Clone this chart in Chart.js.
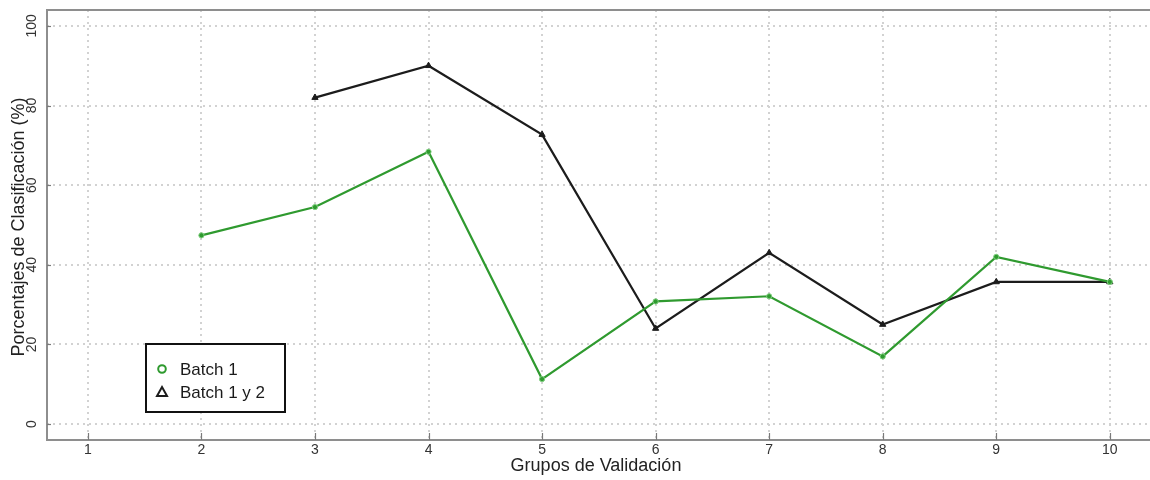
<!DOCTYPE html>
<html>
<head>
<meta charset="utf-8">
<script src="https://cdn.jsdelivr.net/npm/chart.js@4.4.1/dist/chart.umd.min.js"></script>
<style>
  html, body { margin: 0; padding: 0; background: #ffffff; }
  #wrap { width: 1150px; height: 480px; }
</style>
</head>
<body>
<div id="wrap"><canvas id="chart" width="1150" height="480"></canvas></div>
<script>
// Validation groups on the x axis
const grupos = [1, 2, 3, 4, 5, 6, 7, 8, 9, 10];
// Classification percentage per group (null = no result for that group)
const batch1 = [null, 47.4, 54.5, 68.4, 11.3, 30.8, 32.1, 17.0, 42.0, 35.7];
const batch12 = [null, null, 82.0, 90.0, 72.7, 24.0, 43.0, 25.0, 35.7, 35.7];
// Axis tick labels
const xTicks = [1, 2, 3, 4, 5, 6, 7, 8, 9, 10];
const yTicks = [0, 20, 40, 60, 80, 100];
const seriesNames = ['Batch 1', 'Batch 1 y 2'];
const xTitle = 'Grupos de Validación';
const yTitle = 'Porcentajes de Clasificación (%)';

const GREEN = '#2f9a2f';
const BLACK = '#1c1c1c';
const FONT = '"Liberation Sans", Arial, sans-serif';

function toPoints(values) {
  return grupos.map((g, i) => ({ x: g, y: values[i] })).filter(p => p.y !== null);
}

// Frame, dotted grid, inward ticks, tick labels and axis titles
const framePlugin = {
  id: 'frame',
  beforeDraw(chart) {
    const ctx = chart.ctx;
    ctx.save();
    ctx.fillStyle = '#ffffff';
    ctx.fillRect(0, 0, chart.width, chart.height);
    ctx.restore();
  },
  beforeDatasetsDraw(chart) {
    const { ctx, chartArea: a, scales: { x, y } } = chart;
    ctx.save();
    // dotted grid
    ctx.strokeStyle = '#d2d2d2';
    ctx.lineWidth = 2;
    ctx.setLineDash([2, 4]);
    yTicks.forEach(v => {
      const py = Math.round(y.getPixelForValue(v));
      ctx.beginPath(); ctx.moveTo(a.left, py); ctx.lineTo(chart.width, py); ctx.stroke();
    });
    xTicks.forEach(v => {
      const px = Math.round(x.getPixelForValue(v));
      ctx.beginPath(); ctx.moveTo(px, a.top); ctx.lineTo(px, a.bottom); ctx.stroke();
    });
    ctx.setLineDash([]);
    // frame
    ctx.strokeStyle = '#8e8e8e';
    ctx.lineWidth = 2;
    ctx.beginPath();
    ctx.moveTo(chart.width, a.top); ctx.lineTo(a.left, a.top);
    ctx.lineTo(a.left, a.bottom); ctx.lineTo(chart.width, a.bottom);
    ctx.stroke();
    // ticks
    ctx.lineWidth = 1.2;
    ctx.strokeStyle = '#7a7a7a';
    xTicks.forEach(v => {
      const px = Math.round(x.getPixelForValue(v)) + 0.5;
      ctx.beginPath(); ctx.moveTo(px, a.bottom); ctx.lineTo(px, a.bottom - 7); ctx.stroke();
    });
    yTicks.forEach(v => {
      const py = Math.round(y.getPixelForValue(v)) + 0.5;
      ctx.beginPath(); ctx.moveTo(a.left, py); ctx.lineTo(a.left + 4, py); ctx.stroke();
    });
    // x tick labels
    ctx.fillStyle = '#333333';
    ctx.font = '14px ' + FONT;
    ctx.textAlign = 'center';
    ctx.textBaseline = 'middle';
    xTicks.forEach(v => {
      ctx.fillText(String(v), x.getPixelForValue(v), a.bottom + 10);
    });
    // y tick labels, rotated
    yTicks.forEach(v => {
      ctx.save();
      ctx.translate(32, y.getPixelForValue(v));
      ctx.rotate(-Math.PI / 2);
      ctx.fillText(String(v), 0, 0);
      ctx.restore();
    });
    // axis titles
    ctx.fillStyle = '#222222';
    ctx.font = '18px ' + FONT;
    ctx.fillText(xTitle, 596, 466);
    ctx.save();
    ctx.translate(19, (a.top + a.bottom) / 2 + 2);
    ctx.rotate(-Math.PI / 2);
    ctx.fillText(yTitle, 0, 0);
    ctx.restore();
    ctx.restore();
  },
  afterDatasetsDraw(chart) {
    const ctx = chart.ctx;
    const ds = chart.data.datasets;
    ctx.save();
    // legend box
    const bx = 146, by = 344, bw = 139, bh = 68;
    ctx.fillStyle = '#ffffff';
    ctx.fillRect(bx, by, bw, bh);
    ctx.strokeStyle = '#111111';
    ctx.lineWidth = 2;
    ctx.strokeRect(bx, by, bw, bh);
    ctx.font = '17px ' + FONT;
    ctx.textAlign = 'left';
    ctx.textBaseline = 'middle';
    const rows = [369, 392];
    // open circle
    ctx.lineWidth = 2;
    ctx.strokeStyle = ds[0].borderColor;
    ctx.beginPath(); ctx.arc(162, rows[0], 3.8, 0, Math.PI * 2); ctx.stroke();
    // open triangle
    ctx.strokeStyle = ds[1].borderColor;
    ctx.beginPath();
    ctx.moveTo(162, rows[1] - 5); ctx.lineTo(167, rows[1] + 4); ctx.lineTo(157, rows[1] + 4); ctx.closePath();
    ctx.stroke();
    ctx.fillStyle = '#1a1a1a';
    ctx.fillText(ds[0].label, 180, rows[0] + 1);
    ctx.fillText(ds[1].label, 180, rows[1] + 1);
    ctx.restore();
  }
};

new Chart(document.getElementById('chart'), {
  type: 'line',
  data: {
    datasets: [
      {
        label: seriesNames[0],
        data: toPoints(batch1),
        borderColor: GREEN,
        backgroundColor: GREEN,
        borderWidth: 2.2,
        pointStyle: 'circle',
        pointRadius: 2.6,
        pointBorderColor: '#7fcf7f',
        pointBorderWidth: 1,
        pointBackgroundColor: GREEN,
        tension: 0
      },
      {
        label: seriesNames[1],
        data: toPoints(batch12),
        borderColor: BLACK,
        backgroundColor: BLACK,
        borderWidth: 2.2,
        pointStyle: 'triangle',
        pointRadius: 3.6,
        pointBorderColor: BLACK,
        pointBorderWidth: 1,
        pointBackgroundColor: BLACK,
        tension: 0
      }
    ]
  },
  options: {
    responsive: false,
    devicePixelRatio: 1,
    animation: false,
    layout: { padding: { left: 47, right: 0, top: 10, bottom: 40 } },
    scales: {
      x: { type: 'linear', min: 0.64, max: 10.31, display: false },
      y: { type: 'linear', min: -4, max: 104, display: false }
    },
    plugins: {
      legend: { display: false },
      tooltip: { enabled: false }
    }
  },
  plugins: [framePlugin]
});
</script>
</body>
</html>
